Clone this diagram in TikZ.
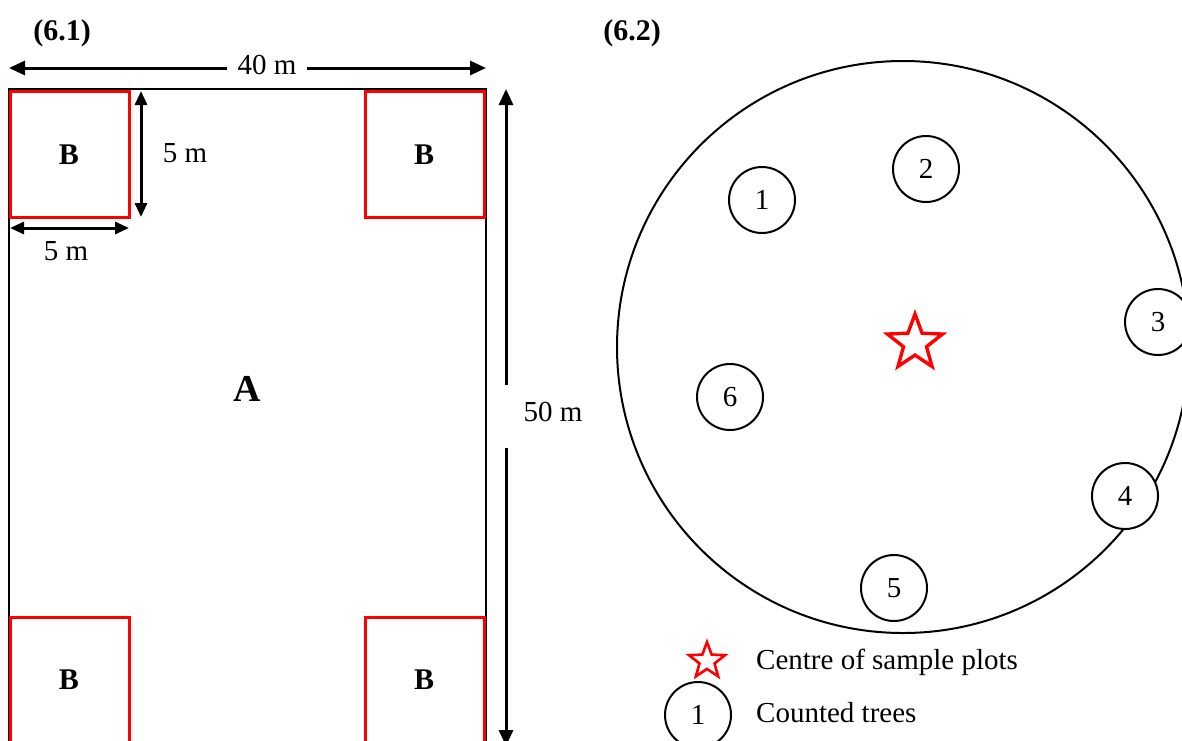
\documentclass[tikz,border=0pt]{standalone}
\usepackage{fontspec}
\setmainfont{Liberation Serif}
\usetikzlibrary{arrows.meta,shapes.geometric}
\begin{document}
\begin{tikzpicture}[x=1pt,y=-1pt,
  every node/.style={font=\fontsize{29}{34}\selectfont, inner sep=0pt},
  dim/.style={line width=3pt, -{Triangle[length=16pt,width=14pt]}},
  dimboth/.style={line width=3pt, {Triangle[length=14pt,width=12pt]}-{Triangle[length=14pt,width=12pt]}},
  plotline/.style={line width=2.8pt, black},
  bbox/.style={draw=red, line width=3pt},
  blabel/.style={font=\fontsize{30}{34}\selectfont\bfseries},
  tree/.style={circle, draw, line width=2pt, fill=white, minimum size=66pt},
  centrestar/.style={star, star points=5, star point ratio=2.4, draw=red, line width=3.4pt, inner sep=0pt}
]
\useasboundingbox (0,0) rectangle (1182,740);
\begin{scope}
\clip (0,0) rectangle (1182,740);
% ---------- (6.1) ----------
\node[blabel] (t61) at (62,33) {(6.1)};
\node[blabel] (t62) at (632,33) {(6.2)};
% plot A
\draw[plotline] (9,770) -- (9,89) -- (486,89) -- (486,770);
% B boxes
\draw[bbox] (10,91) rectangle (129,217);
\draw[bbox] (365,91) rectangle (484,217);
\draw[bbox] (10,770) -- (10,617) -- (129,617) -- (129,770);
\draw[bbox] (365,770) -- (365,617) -- (484,617) -- (484,770);
\node[blabel] (b1) at (69,155) {B};
\node[blabel] (b2) at (424,155) {B};
\node[blabel] (b3) at (69,680) {B};
\node[blabel] (b4) at (424,680) {B};
\node[font=\fontsize{38}{42}\selectfont\bfseries] (A) at (247,389) {A};
% 40 m
\coordinate (L40) at (9,68);
\coordinate (R40) at (486,68);
\node[inner xsep=10pt] (lab40) at (267,65) {40 m};
\draw[dim] (lab40.west |- L40) -- (L40);
\draw[dim] (lab40.east |- R40) -- (R40);
% 50 m
\coordinate (T50) at (506,89);
\coordinate (B50) at (506,746);
\coordinate (g50a) at (506,385);
\coordinate (g50b) at (506,448);
\node (lab50) at (553,412) {50 m};
\draw[dim] (g50a) -- (T50);
\draw[dim] (g50b) -- (B50);
% 5 m vertical
\coordinate (v5t) at (141,91);
\coordinate (v5b) at (141,217);
\draw[dimboth] (v5t) -- (v5b);
\node (lab5v) at (185,153) {5 m};
% 5 m horizontal
\coordinate (h5l) at (10,228);
\coordinate (h5r) at (129,228);
\draw[dimboth] (h5l) -- (h5r);
\node (lab5h) at (66,251) {5 m};
% ---------- (6.2) ----------
\node[circle, draw, line width=2pt, minimum size=572pt] (plot) at (903,347) {};
\node[centrestar, minimum size=58pt] (centre) at (915,343) {};
\node[tree] (c1) at (762,200) {1};
\node[tree] (c2) at (926,169) {2};
\node[tree] (c3) at (1158,322) {3};
\node[tree] (c4) at (1125,496) {4};
\node[tree] (c5) at (894,588) {5};
\node[tree] (c6) at (730,397) {6};
% legend
\node[centrestar, minimum size=38pt, line width=2.6pt] (lstar) at (707,661) {};
\node[anchor=west] (ltext1) at (756,662) {Centre of sample plots};
\node[tree] (lc) at (698,715) {1};
\node[anchor=west] (ltext2) at (756,713) {Counted trees};
\end{scope}
\end{tikzpicture}
\end{document}
